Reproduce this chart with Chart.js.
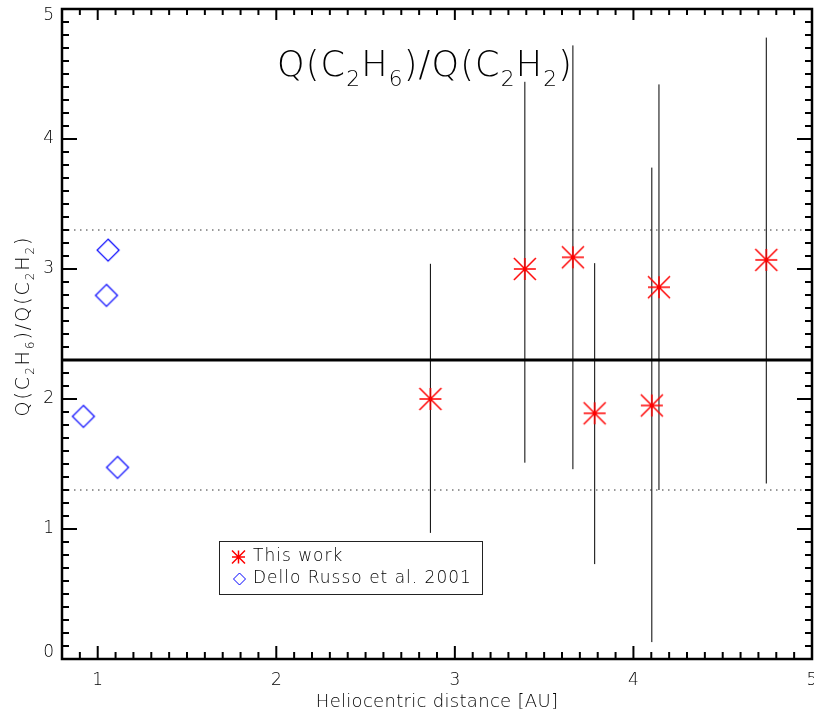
<!DOCTYPE html>
<html>
<head>
<meta charset="utf-8">
<script src="https://cdn.jsdelivr.net/npm/chart.js@4.4.1/dist/chart.umd.min.js"></script>
<style>
  html, body { margin: 0; padding: 0; background: #fff; overflow: hidden; }
  #wrap { width: 814px; height: 717px; }
</style>
</head>
<body>
<div id="wrap"><canvas id="c" width="814" height="717"></canvas></div>
<script>
// ---- data ----
const xTickValues = [1, 2, 3, 4, 5];
const xTickLabels = ['1', '2', '3', '4', '5'];
const yTickValues = [0, 1, 2, 3, 4, 5];
const yTickLabels = ['0', '1', '2', '3', '4', '5'];

const thisWorkR = [2.863, 3.392, 3.661, 3.783, 4.103, 4.143, 4.744];
const thisWorkQ = [2.00, 3.00, 3.09, 1.89, 1.95, 2.86, 3.07];
const errLow    = [0.97, 1.51, 1.46, 0.73, 0.13, 1.30, 1.35];
const errHigh   = [3.04, 4.44, 4.72, 3.045, 3.78, 4.42, 4.78];

const delloR = [1.058, 1.049, 0.920, 1.111];
const delloQ = [3.145, 2.797, 1.866, 1.474];

const meanRatio = 2.3;
const bandLow = 1.3;
const bandHigh = 3.3;

const xMin = 0.8, xMax = 5, yMin = 0, yMax = 5;

// ---- marker drawing ----
function drawAsterisk(ctx, cx, cy, r) {
  ctx.beginPath();
  ctx.moveTo(cx - r, cy); ctx.lineTo(cx + r, cy);
  ctx.moveTo(cx, cy - r); ctx.lineTo(cx, cy + r);
  ctx.moveTo(cx - r, cy - r); ctx.lineTo(cx + r, cy + r);
  ctx.moveTo(cx - r, cy + r); ctx.lineTo(cx + r, cy - r);
  ctx.stroke();
}
function drawDiamond(ctx, cx, cy, r) {
  ctx.beginPath();
  ctx.moveTo(cx, cy - r); ctx.lineTo(cx + r, cy);
  ctx.lineTo(cx, cy + r); ctx.lineTo(cx - r, cy);
  ctx.closePath();
  ctx.stroke();
}
const starImg = document.createElement('canvas');
starImg.width = 28; starImg.height = 28;
(function () {
  const g = starImg.getContext('2d');
  g.strokeStyle = '#ff0000'; g.lineWidth = 1.5;
  drawAsterisk(g, 14, 14, 11);
})();
const diamondImg = document.createElement('canvas');
diamondImg.width = 26; diamondImg.height = 26;
(function () {
  const g = diamondImg.getContext('2d');
  g.strokeStyle = '#0000ff'; g.lineWidth = 1.2;
  drawDiamond(g, 13, 13, 11);
})();

// ---- build datasets from arrays ----
const errData = [];
thisWorkR.forEach((r, i) => {
  errData.push({ x: r, y: errLow[i] });
  errData.push({ x: r, y: errHigh[i] });
  errData.push({ x: r, y: null });
});

const FAM = '"DejaVu Sans", sans-serif';
const WGT = '200';

// ---- rich text helper (subscripts) ----
function richWidth(ctx, parts, size, family, spacing) {
  let w = 0;
  parts.forEach(p => {
    const s = p[1] ? size * 0.62 : size;
    ctx.font = WGT + ' ' + s + 'px ' + family;
    ctx.letterSpacing = spacing + 'px';
    w += ctx.measureText(p[0]).width;
  });
  return w;
}
function drawRich(ctx, parts, x, y, size, family, spacing) {
  let cx = x;
  parts.forEach(p => {
    const s = p[1] ? size * 0.62 : size;
    ctx.font = WGT + ' ' + s + 'px ' + family;
    ctx.letterSpacing = spacing + 'px';
    ctx.fillText(p[0], cx, p[1] ? y + size * 0.28 : y);
    cx += ctx.measureText(p[0]).width;
  });
}
const ratioParts = [['Q(C', 0], ['2', 1], ['H', 0], ['6', 1], [')/Q(C', 0], ['2', 1], ['H', 0], ['2', 1], [')', 0]];

const decor = {
  id: 'decor',
  afterDraw(chart) {
    const { ctx, chartArea: a, scales: { x, y } } = chart;
    ctx.save();
    ctx.strokeStyle = '#000';
    ctx.fillStyle = '#000';
    ctx.lineWidth = 2;
    ctx.lineCap = 'butt';
    // x ticks (bottom and top)
    for (let k = Math.ceil(xMin * 10); k <= xMax * 10; k++) {
      const px = x.getPixelForValue(k / 10);
      const major = k % 10 === 0;
      ctx.beginPath();
      ctx.moveTo(px, a.bottom); ctx.lineTo(px, a.bottom - (major ? 13 : 7));
      ctx.moveTo(px, a.top); ctx.lineTo(px, a.top + (major ? 11 : 6));
      ctx.stroke();
    }
    // y ticks (left and right)
    for (let k = yMin * 10; k <= yMax * 10; k++) {
      const py = y.getPixelForValue(k / 10);
      const major = k % 10 === 0;
      ctx.beginPath();
      ctx.moveTo(a.left, py); ctx.lineTo(a.left + (major ? 15 : 7), py);
      ctx.moveTo(a.right, py); ctx.lineTo(a.right - (major ? 15 : 7), py);
      ctx.stroke();
    }
    // frame
    ctx.lineWidth = 2.5;
    ctx.strokeRect(a.left, a.top, a.right - a.left, a.bottom - a.top);

    // tick labels
    ctx.font = WGT + ' 17px ' + FAM;
    ctx.letterSpacing = '0px';
    ctx.textAlign = 'right';
    ctx.textBaseline = 'middle';
    yTickValues.forEach((v, i) => {
      let py = y.getPixelForValue(v);
      py = Math.min(Math.max(py, a.top + 7), a.bottom - 6);
      ctx.fillText(yTickLabels[i], a.left - 8, py);
    });
    ctx.textAlign = 'center';
    xTickValues.forEach((v, i) => {
      ctx.fillText(xTickLabels[i], x.getPixelForValue(v), a.bottom + 22);
    });

    // x axis title
    ctx.font = WGT + ' 18px ' + FAM;
    ctx.letterSpacing = '0.3px';
    ctx.textBaseline = 'alphabetic';
    ctx.fillText('Heliocentric distance [AU]', 437, 707);

    // y axis title (rotated)
    ctx.textAlign = 'left';
    ctx.save();
    ctx.translate(29, 326);
    ctx.rotate(-Math.PI / 2);
    const yw = richWidth(ctx, ratioParts, 19, FAM, 2);
    drawRich(ctx, ratioParts, -yw / 2, 0, 19, FAM, 2);
    ctx.restore();

    // main title
    const tw = richWidth(ctx, ratioParts, 35, FAM, 1.2);
    drawRich(ctx, ratioParts, 425 - tw / 2, 76, 35, FAM, 1.2);

    // legend
    ctx.letterSpacing = '0px';
    ctx.lineWidth = 1;
    ctx.strokeStyle = '#222';
    ctx.strokeRect(219.5, 541.5, 263, 53);
    ctx.strokeStyle = '#ff0000';
    ctx.lineWidth = 1.5;
    drawAsterisk(ctx, 238.5, 557, 6.5);
    ctx.strokeStyle = '#0000ff';
    ctx.lineWidth = 1;
    drawDiamond(ctx, 239.5, 579, 6);
    ctx.fillStyle = '#000';
    ctx.font = WGT + ' 17px ' + FAM;
    ctx.letterSpacing = '1px';
    ctx.textBaseline = 'middle';
    ctx.fillText('This work', 253, 557);
    ctx.fillText('Dello Russo et al. 2001', 253, 579);
    ctx.restore();
  }
};

new Chart(document.getElementById('c'), {
  type: 'scatter',
  data: {
    datasets: [
      {
        label: 'This work',
        data: thisWorkR.map((r, i) => ({ x: r, y: thisWorkQ[i] })),
        pointStyle: starImg,
        pointRadius: 12,
        pointHoverRadius: 12,
        showLine: false
      },
      {
        label: 'Dello Russo et al. 2001',
        data: delloR.map((r, i) => ({ x: r, y: delloQ[i] })),
        pointStyle: diamondImg,
        pointRadius: 11,
        pointHoverRadius: 11,
        showLine: false
      },
      {
        label: 'errors',
        data: errData,
        showLine: true,
        spanGaps: false,
        borderColor: '#000',
        borderWidth: 1,
        pointRadius: 0
      },
      {
        label: 'mean',
        data: [{ x: xMin, y: meanRatio }, { x: xMax, y: meanRatio }],
        showLine: true,
        borderColor: '#000',
        borderWidth: 3,
        pointRadius: 0
      },
      {
        label: 'high',
        data: [{ x: xMin, y: bandHigh }, { x: xMax, y: bandHigh }],
        showLine: true,
        borderColor: '#333',
        borderWidth: 1,
        borderDash: [1.5, 4.5],
        pointRadius: 0
      },
      {
        label: 'low',
        data: [{ x: xMin, y: bandLow }, { x: xMax, y: bandLow }],
        showLine: true,
        borderColor: '#333',
        borderWidth: 1,
        borderDash: [1.5, 4.5],
        pointRadius: 0
      }
    ]
  },
  options: {
    responsive: false,
    animation: false,
    events: [],
    layout: { autoPadding: false, padding: { left: 62, right: 2, top: 9, bottom: 58 } },
    scales: {
      x: { type: 'linear', min: xMin, max: xMax, display: false },
      y: { type: 'linear', min: yMin, max: yMax, display: false }
    },
    plugins: {
      legend: { display: false },
      tooltip: { enabled: false },
      title: { display: false }
    }
  },
  plugins: [decor]
});
</script>
</body>
</html>
